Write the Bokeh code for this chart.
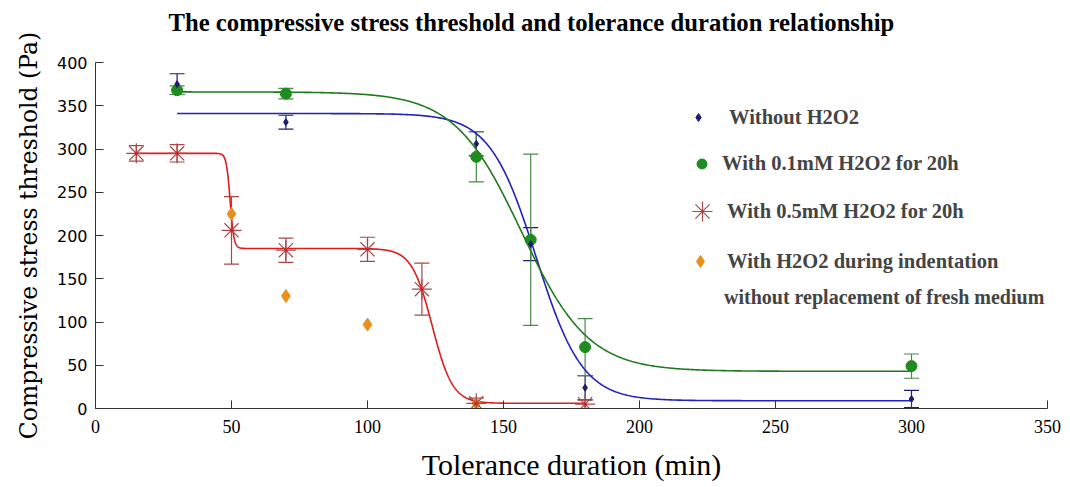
import numpy as np
from bokeh.plotting import figure
from bokeh.models import Range1d, Whisker, ColumnDataSource, Legend, LegendItem, TeeHead, Title
from bokeh.embed import file_html
from bokeh.resources import INLINE

# ---------------- data ----------------
x_without = [30, 70, 140, 160, 180, 300]
y_without = [375, 331, 306, 190, 24, 11]
e_without = [12, 8, 14, 19, 14, 10]

x_01mM = [30, 70, 140, 160, 180, 300]
y_01mM = [368, 364, 291, 195, 71, 49]
e_01mM = [5, 6, 29, 99, 33, 14]

x_05mM = [15, 30, 50, 70, 100, 120, 140, 180]
y_05mM = [295, 295, 206, 183, 184, 138, 6, 5]
e_05mM = [9, 10, 39, 14, 14, 30, 6, 5]

x_during = [50, 70, 100, 140]
y_during = [225, 130, 97, 6]

# Boltzmann fit parameters of the drawn curves: (top, bottom, x0, dx)
fit_without = (341, 9, 162, 8.5)
fit_01mM = (366, 43, 156.6, 12.3)
# two-step fit for 0.5 mM: bottom, step1 (height, x0, dx), step2 (height, x0, dx)
fit_05mM = (6, (110, 49.5, 0.7), (179, 123.8, 3.76))
range_without = (30, 300)
range_01mM = (30, 300)
range_05mM = (15, 180)

title_text = "The compressive stress threshold and tolerance duration relationship"
legend_labels = ["Without H2O2",
                 "With 0.1mM H2O2 for 20h",
                 "With 0.5mM H2O2 for 20h",
                 "With H2O2 during indentation",
                 "without replacement of fresh medium"]

x_ticks = [0, 50, 100, 150, 200, 250, 300, 350]
y_ticks = [0, 50, 100, 150, 200, 250, 300, 350, 400]

# ---------------- colours ----------------
C_BLUE_LINE = "#2222c0"
C_BLUE_PT = "#1c1c70"
C_GREEN_LINE = "#1f7a1f"
C_GREEN_PT = "#1e8c1e"
C_GREEN_ERR = "#4a8a4a"
C_RED_LINE = "#e01c1c"
C_RED_PT = "#a84848"
C_ORANGE = "#e8901c"


def boltz(x, p):
    a1, a2, x0, dx = p
    return a2 + (a1 - a2) / (1 + np.exp((x - x0) / dx))


def two_step(x, p):
    base, s1, s2 = p
    y = base
    for h, x0, dx in (s1, s2):
        y = y + h / (1 + np.exp((x - x0) / dx))
    return y


p = figure(width=1062, height=487, output_backend="svg", toolbar_location=None,
           x_range=Range1d(0, 350), y_range=Range1d(0, 400),
           min_border_left=95, min_border_right=15, min_border_top=62, min_border_bottom=79)

# spacer panel between the frame and the title, then the title itself
p.add_layout(Title(text=" ", text_font_size="10px", standoff=14), "above")
p.add_layout(Title(text=title_text, align="left", offset=73, standoff=0,
                   text_font="Liberation Serif", text_font_size="24.7px",
                   text_font_style="bold", text_color="black"), "above")

p.grid.visible = False
p.outline_line_color = None

# axes
for ax in (p.xaxis[0], p.yaxis[0]):
    ax.axis_line_color = "#333333"
    ax.major_tick_line_color = "#333333"
    ax.major_tick_in = 8
    ax.major_tick_out = 0
    ax.minor_tick_line_color = None
    ax.major_label_text_color = "black"
    ax.axis_label_text_color = "black"
    ax.axis_label_text_font_style = "normal"

p.xaxis.ticker = x_ticks
p.yaxis.ticker = y_ticks
p.xaxis.major_label_text_font = "Liberation Serif"
p.xaxis.major_label_text_font_size = "18px"
p.xaxis.major_label_standoff = 11
p.yaxis.major_label_text_font = "DejaVu Sans"
p.yaxis.major_label_text_font_size = "16px"
p.yaxis.major_label_standoff = 8

p.xaxis.axis_label = "Tolerance duration (min)"
p.xaxis.axis_label_text_font = "Liberation Serif"
p.xaxis.axis_label_text_font_size = "30px"
p.xaxis.axis_label_standoff = 12
p.yaxis.axis_label = "Compressive stress threshold (Pa)"
p.yaxis.axis_label_text_font = "DejaVu Serif"
p.yaxis.axis_label_text_font_size = "23.5px"
p.yaxis.axis_label_standoff = 11

# fitted curves
xb = np.linspace(range_without[0], range_without[1], 600)
p.line(xb, boltz(xb, fit_without), line_color=C_BLUE_LINE, line_width=1.6)
xg = np.linspace(range_01mM[0], range_01mM[1], 600)
p.line(xg, boltz(xg, fit_01mM), line_color=C_GREEN_LINE, line_width=1.6)
xr = np.linspace(range_05mM[0], range_05mM[1], 1500)
p.line(xr, two_step(xr, fit_05mM), line_color=C_RED_LINE, line_width=1.6)


def add_err(xs, ys, es, color):
    src = ColumnDataSource(dict(base=xs, upper=[y + e for y, e in zip(ys, es)],
                                lower=[y - e for y, e in zip(ys, es)]))
    w = Whisker(source=src, base="base", upper="upper", lower="lower", dimension="height",
                line_color=color, line_width=1.2,
                upper_head=TeeHead(size=15, line_color=color, line_width=1.2),
                lower_head=TeeHead(size=15, line_color=color, line_width=1.2))
    p.add_layout(w)


add_err(x_without, y_without, e_without, C_BLUE_PT)
add_err(x_01mM, y_01mM, e_01mM, C_GREEN_ERR)
add_err(x_05mM, y_05mM, e_05mM, C_RED_PT)

r_orange = p.scatter(x_during, y_during, marker="diamond", size=13, fill_color=C_ORANGE,
                     line_color=C_ORANGE)
r_red = p.scatter(x_05mM, y_05mM, marker="asterisk", size=20, line_color=C_RED_PT, line_width=1.2)
p.scatter(x_05mM, y_05mM, marker="circle", size=3, fill_color=C_RED_LINE, line_color=None)
r_green = p.scatter(x_01mM, y_01mM, marker="circle", size=11, fill_color=C_GREEN_PT,
                    line_color=C_GREEN_PT)
r_blue = p.scatter(x_without, y_without, marker="diamond", size=7, fill_color=C_BLUE_PT,
                   line_color=C_BLUE_PT)

# one legend per row so that every row's glyph size and position can be tuned
legend_rows = [
    # label, renderers, (loc_x, loc_y), glyph box (w, h), label standoff, font size
    (legend_labels[0], [r_blue], (593, 279), (20, 24), 21, "20.5px"),
    (legend_labels[1], [r_green], (594, 232), (25, 25), 8, "20.5px"),
    (legend_labels[2], [r_red], (582, 172), (50, 50), -4, "20.5px"),
    (legend_labels[3], [r_orange], (590, 132), (30, 30), 12, "20.5px"),
    (legend_labels[4], [], (590, 96), (30, 30), 9, "20px"),
]
for label, rends, loc, (gw, gh), so, fs in legend_rows:
    lg = Legend(items=[LegendItem(label=label, renderers=rends)], location=loc)
    lg.label_text_font = "Liberation Serif"
    lg.label_text_font_size = fs
    lg.label_text_font_style = "bold"
    lg.label_height = 24
    lg.glyph_height = gh
    lg.glyph_width = gw
    lg.label_standoff = so
    lg.padding = 0
    lg.margin = 0
    lg.border_line_color = None
    lg.background_fill_alpha = 0
    p.add_layout(lg)

open("out.html", "w").write(file_html(p, INLINE))
